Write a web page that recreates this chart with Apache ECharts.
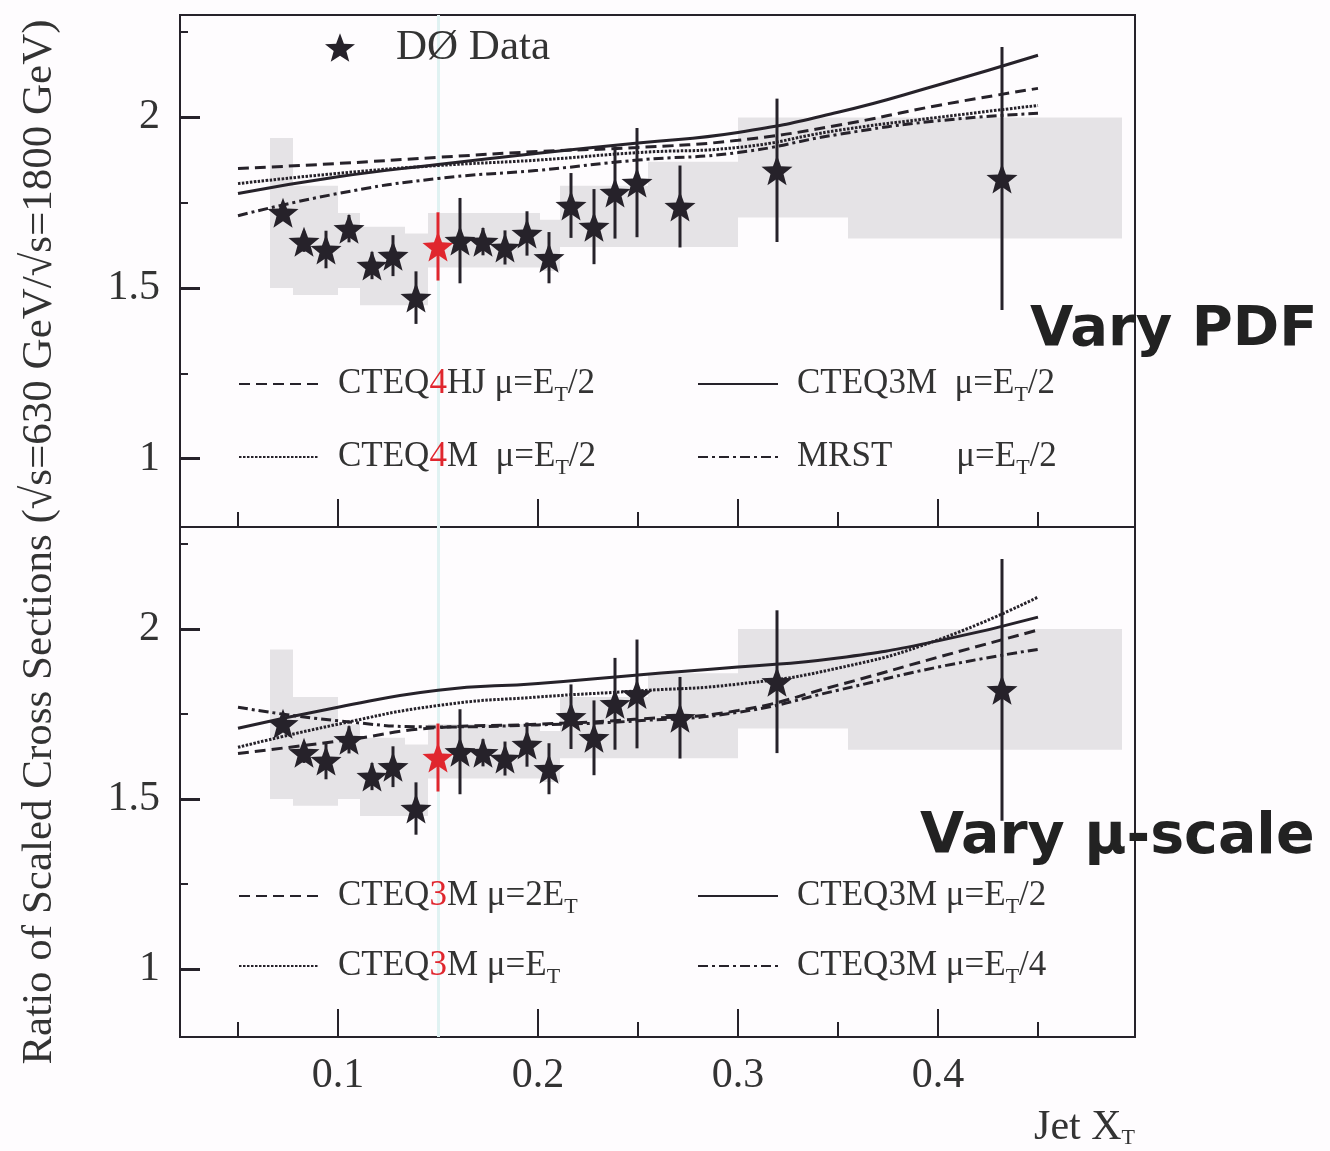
<!DOCTYPE html>
<html>
<head>
<meta charset="utf-8">
<title>Ratio of scaled cross sections</title>
<script src="https://cdn.jsdelivr.net/npm/echarts@6.0.0/dist/echarts.min.js"></script>
<style>
  html, body { margin: 0; padding: 0; background: #fefcfe; }
  #chart { width: 1330px; height: 1151px; }
</style>
</head>
<body>
<div id="chart"></div>
<script>
// D0 points (same in both panels): jet xT, ratio, error
const xT = [0.0725, 0.083, 0.094, 0.1055, 0.117, 0.1275, 0.139, 0.15, 0.161, 0.1725,
  0.1835, 0.1945, 0.2055, 0.2165, 0.228, 0.2385, 0.2495, 0.271, 0.3195, 0.432]
const ratio = [1.721, 1.636, 1.613, 1.674, 1.566, 1.595, 1.472, 1.622, 1.639, 1.636,
  1.619, 1.66, 1.589, 1.742, 1.68, 1.78, 1.809, 1.739, 1.845, 1.821]
const ratioErr = [0.02, 0.03, 0.055, 0.04, 0.04, 0.06, 0.077, 0.1, 0.125, 0.04,
  0.05, 0.065, 0.075, 0.095, 0.11, 0.135, 0.16, 0.12, 0.21, 0.385]
const redPoint = 7

// grey systematic band, one box per bin
const bandFrom = [0.066, 0.0775, 0.1, 0.111, 0.1335, 0.145, 0.201, 0.211, 0.255, 0.3, 0.355]
const bandTo   = [0.0775, 0.1, 0.111, 0.1335, 0.145, 0.201, 0.211, 0.255, 0.3, 0.355, 0.492]
const bandLow  = [1.50, 1.48, 1.50, 1.45, 1.45, 1.56, 1.55, 1.62, 1.62, 1.707, 1.645]
const bandHigh = [1.94, 1.80, 1.72, 1.68, 1.66, 1.72, 1.70, 1.80, 1.87, 2.0, 2.0]

// theory curves
const curveX = [0.05, 0.1, 0.15, 0.2, 0.25, 0.3, 0.35, 0.4, 0.45]
// top: vary PDF
const cteq4hj = [1.85, 1.865, 1.883, 1.9, 1.912, 1.933, 1.977, 2.035, 2.085]
const cteq3m = [1.777, 1.826, 1.862, 1.895, 1.925, 1.956, 2.015, 2.095, 2.182]
const cteq4m = [1.806, 1.836, 1.859, 1.875, 1.897, 1.912, 1.962, 2.0, 2.035]
const mrst = [1.712, 1.777, 1.821, 1.845, 1.875, 1.897, 1.95, 1.99, 2.012]
// bottom: vary mu scale (CTEQ3M)
const mu2Et = [1.634, 1.67, 1.71, 1.72, 1.735, 1.76, 1.835, 1.917, 1.997]
const muEt2 = [1.708, 1.77, 1.82, 1.84, 1.865, 1.888, 1.915, 1.965, 2.035]
const muEt = [1.652, 1.72, 1.775, 1.80, 1.818, 1.838, 1.885, 1.968, 2.094]
const muEt4 = [1.77, 1.73, 1.712, 1.718, 1.73, 1.755, 1.82, 1.888, 1.94]

// ticks
const xMajor = [0.1, 0.2, 0.3, 0.4]
const xMinor = [0.05, 0.25, 0.35, 0.45]
const xRed = [0.15]
const yMajor = [1, 1.5, 2]
const yMinor = [1.25, 1.75, 2.25]

const ink = '#26222a'
const red = '#e0262e'
const serif = '"Liberation Serif", "DejaVu Serif", serif'
const subRich = {
  r: { color: red, fontSize: 35, fontFamily: serif, lineHeight: 44 },
  s: { fontSize: 22, fontFamily: serif, lineHeight: 22, verticalAlign: 'bottom' },
  gap: { width: 64 }
}

function starSymbol() {
  let d = ''
  for (let i = 0; i < 10; i++) {
    const r = i % 2 ? 0.42 : 1
    const a = Math.PI / 5 * i - Math.PI / 2
    d += (i ? 'L' : 'M') + (r * Math.cos(a)).toFixed(3) + ' ' + (r * Math.sin(a)).toFixed(3)
  }
  return 'path://' + d + 'Z'
}
const star = starSymbol()

const grids = [
  { left: 180, top: 15, width: 955, height: 512 },
  { left: 180, top: 527, width: 955, height: 510 }
]

let xAxes = [], yAxes = []
grids.forEach((g, gi) => {
  const base = { gridIndex: gi, type: 'value', position: 'bottom', offset: 0, min: 0.021, max: 0.4985, splitLine: { show: false }, axisLine: { show: false } }
  xAxes.push(Object.assign({}, base, {
    axisTick: { inside: true, length: 28, customValues: xMajor, lineStyle: { color: ink, width: 2 } },
    axisLabel: { show: gi === 1, customValues: xMajor, margin: 18, fontSize: 42, fontFamily: serif, color: '#333' }
  }))
  xAxes.push(Object.assign({}, base, {
    axisTick: { inside: true, length: 15, customValues: xMinor, lineStyle: { color: ink, width: 2 } },
    axisLabel: { show: false }
  }))
  xAxes.push(Object.assign({}, base, {
    axisTick: { inside: true, length: 15, customValues: xRed, lineStyle: { color: red, width: 2 } },
    axisLabel: { show: false }
  }))
  const ybase = { gridIndex: gi, type: 'value', position: 'left', offset: 0, min: 0.8, max: 2.3, splitLine: { show: false }, axisLine: { show: false } }
  yAxes.push(Object.assign({}, ybase, {
    axisTick: { inside: true, length: 20, customValues: yMajor, lineStyle: { color: ink, width: 3 } },
    axisLabel: { customValues: yMajor, margin: 20, fontSize: 42, fontFamily: serif, color: '#333' }
  }))
  yAxes.push(Object.assign({}, ybase, {
    axisTick: { inside: true, length: 8, customValues: yMinor, lineStyle: { color: ink, width: 2 } },
    axisLabel: { show: false }
  }))
})

function band(gi) {
  return {
    type: 'custom', xAxisIndex: gi * 3, yAxisIndex: gi * 2, silent: true, z: 1,
    data: bandFrom.map((x, i) => [x, bandTo[i], bandLow[i], bandHigh[i]]),
    encode: { x: [0, 1], y: [2, 3] },
    renderItem(params, api) {
      const a = api.coord([api.value(0), api.value(3)])
      const b = api.coord([api.value(1), api.value(2)])
      return { type: 'rect', shape: { x: a[0], y: a[1], width: b[0] - a[0], height: b[1] - a[1] }, style: { fill: '#e5e3e6' } }
    },
    // faint vertical guide at xT = 0.15
    markLine: {
      silent: true, symbol: 'none', z: 1, label: { show: false },
      lineStyle: { color: '#e0f2f2', width: 3, type: 'solid' },
      data: [{ xAxis: 0.15 }]
    }
  }
}

function curve(name, ys, gi, dash) {
  return {
    name, type: 'line', xAxisIndex: gi * 3, yAxisIndex: gi * 2, silent: true, z: 3,
    data: curveX.map((x, i) => [x, ys[i]]),
    smooth: true, symbol: 'none',
    itemStyle: { color: ink },
    lineStyle: { color: ink, width: 3, type: dash }
  }
}

function errorBars(gi) {
  return {
    type: 'custom', xAxisIndex: gi * 3, yAxisIndex: gi * 2, silent: true, z: 4,
    data: xT.map((x, i) => [x, ratio[i] - ratioErr[i], ratio[i] + ratioErr[i], i === redPoint ? 1 : 0]),
    encode: { x: 0, y: [1, 2] },
    renderItem(params, api) {
      const lo = api.coord([api.value(0), api.value(1)])
      const hi = api.coord([api.value(0), api.value(2)])
      return {
        type: 'line', shape: { x1: lo[0], y1: lo[1], x2: hi[0], y2: hi[1] },
        style: { stroke: api.value(3) ? red : ink, lineWidth: 3 }
      }
    }
  }
}

function stars(name, gi) {
  return {
    name, type: 'scatter', xAxisIndex: gi * 3, yAxisIndex: gi * 2, silent: true, z: 5,
    symbol: star, symbolSize: [31, 30],
    itemStyle: { color: ink, opacity: 1 },
    data: xT.map((x, i) => i === redPoint
      ? { value: [x, ratio[i]], itemStyle: { color: red } }
      : [x, ratio[i]])
  }
}

const dashed = [11, 6]
const dotted = [2.5, 1.5]
const dashDot = [10, 4, 3, 4]

const series = [
  band(0), band(1),
  curve('t_hj', cteq4hj, 0, dashed),
  curve('t_3m', cteq3m, 0, 'solid'),
  curve('t_4m', cteq4m, 0, dotted),
  curve('t_mrst', mrst, 0, dashDot),
  curve('b_2et', mu2Et, 1, dashed),
  curve('b_et2', muEt2, 1, 'solid'),
  curve('b_et', muEt, 1, dotted),
  curve('b_et4', muEt4, 1, dashDot),
  errorBars(0), errorBars(1),
  stars('DØ Data', 0), stars('DØ Data (2)', 1)
]

const labels = {
  t_hj: 'CTEQ{r|4}HJ μ=E{s|T}/2',
  t_3m: 'CTEQ3M  μ=E{s|T}/2',
  t_4m: 'CTEQ{r|4}M  μ=E{s|T}/2',
  t_mrst: 'MRST{gap|}μ=E{s|T}/2',
  b_2et: 'CTEQ{r|3}M μ=2E{s|T}',
  b_et2: 'CTEQ3M μ=E{s|T}/2',
  b_et: 'CTEQ{r|3}M μ=E{s|T}',
  b_et4: 'CTEQ3M μ=E{s|T}/4'
}
const legendPos = [
  ['t_hj', 238, 384], ['t_3m', 697, 384], ['t_4m', 238, 457], ['t_mrst', 697, 457],
  ['b_2et', 238, 896], ['b_et2', 697, 896], ['b_et', 238, 966], ['b_et4', 697, 966]
]
const legends = legendPos.map(([name, x, y]) => ({
  data: [name], left: x, top: y - 22, padding: 0, selectedMode: false,
  itemWidth: 80, itemHeight: 4,
  itemStyle: { opacity: 0 },
  formatter: n => labels[n],
  textStyle: { fontFamily: serif, fontSize: 35, lineHeight: 44, color: '#333', padding: [0, 0, 0, 14], rich: subRich }
}))
legends.push({
  data: ['DØ Data'], left: 325, top: 26, padding: 0, selectedMode: false,
  itemWidth: 30, itemHeight: 29,
  textStyle: { fontFamily: serif, fontSize: 43, color: '#333', padding: [0, 0, 0, 36] }
})

const chart = echarts.init(document.getElementById('chart'))
chart.setOption({
  backgroundColor: '#fefcfe',
  animation: false,
  grid: grids.map(g => Object.assign({ show: true, borderColor: ink, borderWidth: 2, containLabel: false }, g)),
  xAxis: xAxes,
  yAxis: yAxes,
  legend: legends,
  series,
  graphic: [
    {
      type: 'text', x: 40, y: 542, rotation: Math.PI / 2,
      style: { text: 'Ratio of Scaled Cross Sections (√s=630 GeV/√s=1800 GeV)', fontFamily: serif, fontSize: 43, fill: '#333', align: 'center', verticalAlign: 'middle' }
    },
    {
      type: 'text', x: 1135, y: 1128,
      style: { text: 'Jet X{s|T}', fontFamily: serif, fontSize: 42, fill: '#333', align: 'right', verticalAlign: 'middle', rich: subRich }
    },
    {
      type: 'text', x: 1030, y: 330,
      style: { text: 'Vary PDF', fontFamily: '"DejaVu Sans", sans-serif', fontWeight: 'bold', fontSize: 56, fill: '#222', verticalAlign: 'middle' }
    },
    {
      type: 'text', x: 920, y: 838,
      style: { text: 'Vary μ-scale', fontFamily: '"DejaVu Sans", sans-serif', fontWeight: 'bold', fontSize: 57, fill: '#222', verticalAlign: 'middle' }
    }
  ]
})
</script>
</body>
</html>
